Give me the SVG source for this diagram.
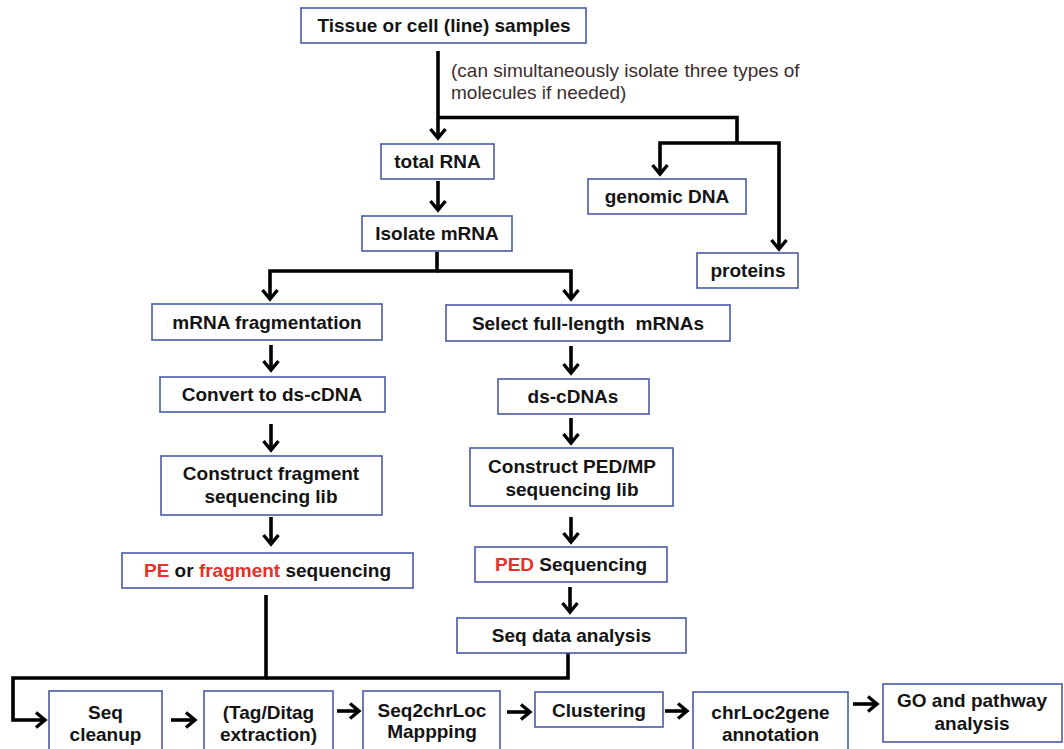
<svg xmlns="http://www.w3.org/2000/svg" width="1064" height="749" viewBox="0 0 1064 749">
  <style>
    .box { fill: #ffffff; stroke: #4a5aa8; stroke-width: 1.6; }
    .lbl { font-family: "Liberation Sans", Arial, sans-serif; font-size: 19px; font-weight: bold; fill: #141414; text-anchor: middle; }
    .red { fill: #e8302a; }
    .note { font-family: "Liberation Sans", Arial, sans-serif; font-size: 19px; fill: #3d2d2d; }
    .wire { fill: none; stroke: #000000; stroke-width: 3.6; stroke-linejoin: miter; }
  </style>
  <defs>
    <marker id="head" markerUnits="userSpaceOnUse" markerWidth="24" markerHeight="24" refX="0" refY="0" viewBox="-12 -12 24 24" orient="auto" overflow="visible">
      <path d="M-9,-7.5 L0,0 L-9,7.5" fill="none" stroke="#000000" stroke-width="3.4" stroke-linejoin="miter"/>
    </marker>
  </defs>

  <rect width="1064" height="749" fill="#ffffff"/>

  <!-- connectors -->
  <g id="connectors">
    <path class="wire" d="M438,51 V138" marker-end="url(#head)"/>
    <path class="wire" d="M438,117.5 H737 V143"/>
    <path class="wire" d="M737,143 H660 V174" marker-end="url(#head)"/>
    <path class="wire" d="M737,143 H779 V249" marker-end="url(#head)"/>
    <path class="wire" d="M438,181 V210" marker-end="url(#head)"/>
    <path class="wire" d="M437,252 V271 H270 V299" marker-end="url(#head)"/>
    <path class="wire" d="M437,271 H571 V299" marker-end="url(#head)"/>
    <path class="wire" d="M271,345 V370" marker-end="url(#head)"/>
    <path class="wire" d="M271,424 V450" marker-end="url(#head)"/>
    <path class="wire" d="M271,517 V544" marker-end="url(#head)"/>
    <path class="wire" d="M571,346 V373" marker-end="url(#head)"/>
    <path class="wire" d="M571,418 V443" marker-end="url(#head)"/>
    <path class="wire" d="M571,517 V542" marker-end="url(#head)"/>
    <path class="wire" d="M570,587 V612" marker-end="url(#head)"/>
    <path class="wire" d="M266,595 V678 H13 V720 H45" marker-end="url(#head)"/>
    <path class="wire" d="M568,653 V678 H266"/>
    <path class="wire" d="M171,720 H195" marker-end="url(#head)"/>
    <path class="wire" d="M337,711 H359" marker-end="url(#head)"/>
    <path class="wire" d="M507,712 H530" marker-end="url(#head)"/>
    <path class="wire" d="M665,711 H687" marker-end="url(#head)"/>
    <path class="wire" d="M853,704 H877" marker-end="url(#head)"/>
  </g>

  <text class="note" x="451" y="77">(can simultaneously isolate three types of</text>
  <text class="note" x="451" y="99">molecules if needed)</text>

  <g id="samples">
    <rect class="box" x="301" y="8" width="285" height="35"/>
    <text class="lbl" x="444" y="32">Tissue or cell (line) samples</text>
  </g>
  <g id="total-rna">
    <rect class="box" x="381" y="144" width="113" height="35"/>
    <text class="lbl" x="437.5" y="168">total RNA</text>
  </g>
  <g id="genomic-dna">
    <rect class="box" x="588" y="179" width="158" height="35"/>
    <text class="lbl" x="667" y="203">genomic DNA</text>
  </g>
  <g id="proteins">
    <rect class="box" x="697" y="253" width="101" height="35"/>
    <text class="lbl" x="748" y="277">proteins</text>
  </g>
  <g id="isolate-mrna">
    <rect class="box" x="362" y="216" width="150" height="35"/>
    <text class="lbl" x="437" y="240">Isolate mRNA</text>
  </g>
  <g id="mrna-fragmentation">
    <rect class="box" x="152" y="304" width="230" height="36"/>
    <text class="lbl" x="267" y="329">mRNA fragmentation</text>
  </g>
  <g id="select-full-length">
    <rect class="box" x="446" y="305" width="284" height="36"/>
    <text class="lbl" x="588" y="330" xml:space="preserve">Select full-length  mRNAs</text>
  </g>
  <g id="convert-ds-cdna">
    <rect class="box" x="160" y="377" width="225" height="35"/>
    <text class="lbl" x="272" y="401">Convert to ds-cDNA</text>
  </g>
  <g id="ds-cdnas">
    <rect class="box" x="498" y="379" width="151" height="35"/>
    <text class="lbl" x="573" y="403">ds-cDNAs</text>
  </g>
  <g id="fragment-lib">
    <rect class="box" x="161" y="456" width="221" height="59"/>
    <text class="lbl" x="271" y="480">Construct fragment</text>
    <text class="lbl" x="271" y="503">sequencing lib</text>
  </g>
  <g id="ped-lib">
    <rect class="box" x="470" y="448" width="203" height="58"/>
    <text class="lbl" x="572" y="473">Construct PED/MP</text>
    <text class="lbl" x="572" y="496">sequencing lib</text>
  </g>
  <g id="pe-sequencing">
    <rect class="box" x="122" y="553" width="291" height="35"/>
    <text class="lbl" x="267.5" y="577"><tspan class="red">PE</tspan> or <tspan class="red">fragment</tspan> sequencing</text>
  </g>
  <g id="ped-sequencing">
    <rect class="box" x="475" y="547" width="192" height="35"/>
    <text class="lbl" x="571" y="571"><tspan class="red">PED</tspan> Sequencing</text>
  </g>
  <g id="seq-data-analysis">
    <rect class="box" x="457" y="618" width="229" height="35"/>
    <text class="lbl" x="571.5" y="642">Seq data analysis</text>
  </g>
  <g id="seq-cleanup">
    <rect class="box" x="49" y="691" width="113" height="64"/>
    <text class="lbl" x="105.5" y="719">Seq</text>
    <text class="lbl" x="105.5" y="741">cleanup</text>
  </g>
  <g id="tag-extraction">
    <rect class="box" x="204" y="691" width="129" height="64"/>
    <text class="lbl" x="268.5" y="719">(Tag/Ditag</text>
    <text class="lbl" x="268.5" y="741">extraction)</text>
  </g>
  <g id="seq2chrloc">
    <rect class="box" x="363" y="691" width="137" height="64"/>
    <text class="lbl" x="432" y="717">Seq2chrLoc</text>
    <text class="lbl" x="432" y="738">Mappping</text>
  </g>
  <g id="clustering">
    <rect class="box" x="535" y="692" width="128" height="35"/>
    <text class="lbl" x="599" y="717">Clustering</text>
  </g>
  <g id="chrloc2gene">
    <rect class="box" x="693" y="692" width="155" height="64"/>
    <text class="lbl" x="770.5" y="719">chrLoc2gene</text>
    <text class="lbl" x="770.5" y="741">annotation</text>
  </g>
  <g id="go-pathway">
    <rect class="box" x="883" y="684" width="179" height="58"/>
    <text class="lbl" x="972" y="707">GO and pathway</text>
    <text class="lbl" x="972" y="730">analysis</text>
  </g>
</svg>
